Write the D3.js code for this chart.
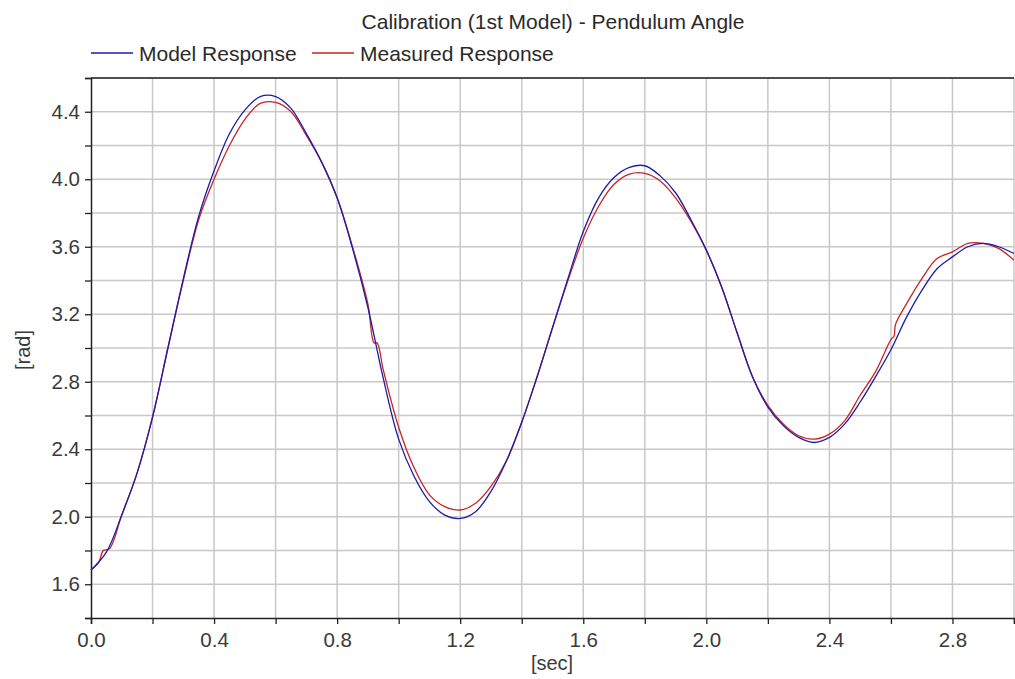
<!DOCTYPE html>
<html>
<head>
<meta charset="utf-8">
<script src="https://cdn.jsdelivr.net/npm/d3@7"></script>
<style>
  html, body { margin: 0; padding: 0; background: #fff; }
  svg { display: block; font-family: "Liberation Sans", Arial, sans-serif; }
</style>
</head>
<body>
<svg id="chart" width="1015" height="679"></svg>
<script>
const chartTitle = "Calibration (1st Model) - Pendulum Angle";
const seriesNames = ["Model Response", "Measured Response"];
const xLabel = "[sec]";
const yLabel = "[rad]";

const modelTime = [0, 0.05, 0.1, 0.15, 0.2, 0.25, 0.3, 0.35, 0.4, 0.45, 0.5, 0.55, 0.6, 0.65, 0.7, 0.75,
  0.8, 0.85, 0.9, 0.95, 1.0, 1.05, 1.1, 1.15, 1.2, 1.25, 1.3, 1.35, 1.4, 1.45, 1.5, 1.55, 1.6, 1.65,
  1.7, 1.75, 1.8, 1.85, 1.9, 1.95, 2.0, 2.05, 2.1, 2.15, 2.2, 2.25, 2.3, 2.35, 2.4, 2.45, 2.5, 2.55,
  2.6, 2.65, 2.7, 2.75, 2.8, 2.85, 2.9, 2.95, 3.0];
const modelValues = [1.684, 1.79, 2.01, 2.26, 2.59, 3.0, 3.41, 3.78, 4.05, 4.27, 4.41, 4.49, 4.49, 4.42, 4.27, 4.10,
  3.89, 3.59, 3.24, 2.82, 2.46, 2.24, 2.09, 2.01, 1.99, 2.03, 2.15, 2.33, 2.56, 2.83, 3.12, 3.41, 3.69, 3.89,
  4.01, 4.07, 4.08, 4.02, 3.92, 3.76, 3.58, 3.36, 3.09, 2.83, 2.65, 2.54, 2.47, 2.44, 2.47, 2.55, 2.68, 2.83,
  2.99, 3.18, 3.34, 3.47, 3.54, 3.60, 3.62, 3.60, 3.56];

const measuredTime = [0, 0.025, 0.04, 0.06, 0.1, 0.15, 0.2, 0.25, 0.3, 0.35, 0.4, 0.45, 0.5, 0.55, 0.6, 0.65,
  0.7, 0.75, 0.8, 0.85, 0.9, 0.92, 0.93, 0.95, 1.0, 1.05, 1.1, 1.15, 1.2, 1.25, 1.3, 1.35, 1.4, 1.45, 1.5,
  1.55, 1.6, 1.65, 1.7, 1.75, 1.8, 1.85, 1.9, 1.95, 2.0, 2.05, 2.1, 2.15, 2.2, 2.25, 2.3, 2.35, 2.4, 2.45,
  2.5, 2.55, 2.6, 2.61, 2.615, 2.65, 2.7, 2.75, 2.8, 2.85, 2.9, 2.95, 3.0];
const measuredValues = [1.684, 1.73, 1.80, 1.81, 2.01, 2.26, 2.59, 3.0, 3.40, 3.76, 4.00, 4.20, 4.355, 4.45, 4.455, 4.40,
  4.26, 4.10, 3.89, 3.60, 3.26, 3.03, 3.03, 2.87, 2.53, 2.29, 2.13, 2.06, 2.04, 2.08, 2.18, 2.33, 2.56, 2.83, 3.12,
  3.40, 3.65, 3.84, 3.97, 4.03, 4.035, 3.99, 3.89, 3.75, 3.58, 3.36, 3.09, 2.83, 2.66, 2.55, 2.48, 2.46, 2.49, 2.57,
  2.72, 2.86, 3.05, 3.07, 3.14, 3.26, 3.41, 3.53, 3.57, 3.62, 3.62, 3.59, 3.52];

const xTicks = d3.range(0, 3.0001, 0.2).map(v => +v.toFixed(1));
const yTicks = d3.range(1.4, 4.6001, 0.2).map(v => +v.toFixed(1));
const xLabeled = [0.0, 0.4, 0.8, 1.2, 1.6, 2.0, 2.4, 2.8];
const yLabeled = [1.6, 2.0, 2.4, 2.8, 3.2, 3.6, 4.0, 4.4];

const colors = ["#1c1ca8", "#cc2222"];

const svg = d3.select("#chart");
const margin = { left: 91, right: 1014, top: 78, bottom: 618 };

const x = d3.scaleLinear().domain([0, 3]).range([margin.left, margin.right]);
const y = d3.scaleLinear().domain([1.4, 4.6]).range([margin.bottom, margin.top]);

// grid
const grid = svg.append("g");
grid.selectAll("line.vg").data(xTicks.filter(d => d > 0)).join("line")
  .attr("x1", d => x(d)).attr("x2", d => x(d))
  .attr("y1", margin.top).attr("y2", margin.bottom)
  .attr("stroke", "#c8c8c8").attr("stroke-width", 1.5);
grid.selectAll("line.hg").data(yTicks.filter(d => d > 1.4)).join("line")
  .attr("x1", margin.left).attr("x2", margin.right)
  .attr("y1", d => y(d)).attr("y2", d => y(d))
  .attr("stroke", "#c8c8c8").attr("stroke-width", 1.5);

// top frame line
svg.append("line")
  .attr("x1", margin.left).attr("x2", margin.right)
  .attr("y1", margin.top).attr("y2", margin.top)
  .attr("stroke", "#222").attr("stroke-width", 1.5);

// axes
const fmt = d3.format(".1f");
const xAxis = d3.axisBottom(x).tickValues(xTicks).tickSize(6).tickPadding(8)
  .tickFormat(d => xLabeled.some(v => Math.abs(v - d) < 1e-6) ? fmt(d) : "");
const yAxis = d3.axisLeft(y).tickValues(yTicks).tickSize(6).tickPadding(5)
  .tickFormat(d => yLabeled.some(v => Math.abs(v - d) < 1e-6) ? fmt(d) : "");

const gx = svg.append("g").attr("transform", `translate(0,${margin.bottom})`).call(xAxis);
const gy = svg.append("g").attr("transform", `translate(${margin.left},0)`).call(yAxis);
[gx, gy].forEach(g => {
  g.select(".domain").attr("stroke", "#222").attr("stroke-width", 1.5);
  g.selectAll(".tick line").attr("stroke", "#222").attr("stroke-width", 1.3);
  g.selectAll(".tick text").attr("fill", "#3a3a3a").attr("font-size", 20.5)
    .attr("font-family", "'Liberation Sans', Arial, sans-serif");
});

// lines
const modelData = modelTime.map((t, i) => [t, modelValues[i]]);
const measuredData = measuredTime.map((t, i) => [t, measuredValues[i]]);
const line = d3.line().x(d => x(d[0])).y(d => y(d[1])).curve(d3.curveCatmullRom.alpha(0.5));

svg.append("path").datum(measuredData).attr("d", line)
  .attr("fill", "none").attr("stroke", colors[1]).attr("stroke-width", 1.3);
svg.append("path").datum(modelData).attr("d", line)
  .attr("fill", "none").attr("stroke", colors[0]).attr("stroke-width", 1.3);

// title
svg.append("text").attr("x", 553).attr("y", 29).attr("text-anchor", "middle")
  .attr("font-size", 21).attr("fill", "#2a2a2a").text(chartTitle);

// legend
const legendItems = [
  { name: seriesNames[0], color: colors[0], x0: 91 },
  { name: seriesNames[1], color: colors[1], x0: 312 }
];
const lg = svg.append("g");
legendItems.forEach(it => {
  lg.append("line").attr("x1", it.x0).attr("x2", it.x0 + 42)
    .attr("y1", 53).attr("y2", 53).attr("stroke", it.color).attr("stroke-width", 1.3);
  lg.append("text").attr("x", it.x0 + 48).attr("y", 60.5)
    .attr("font-size", 21).attr("fill", "#2a2a2a").text(it.name);
});

// axis labels
svg.append("text").attr("x", 552).attr("y", 670).attr("text-anchor", "middle")
  .attr("font-size", 20).attr("fill", "#3a3a3a").text(xLabel);
svg.append("text").attr("transform", "translate(30,350) rotate(-90)")
  .attr("text-anchor", "middle").attr("font-size", 20).attr("fill", "#3a3a3a").text(yLabel);
</script>
</body>
</html>
